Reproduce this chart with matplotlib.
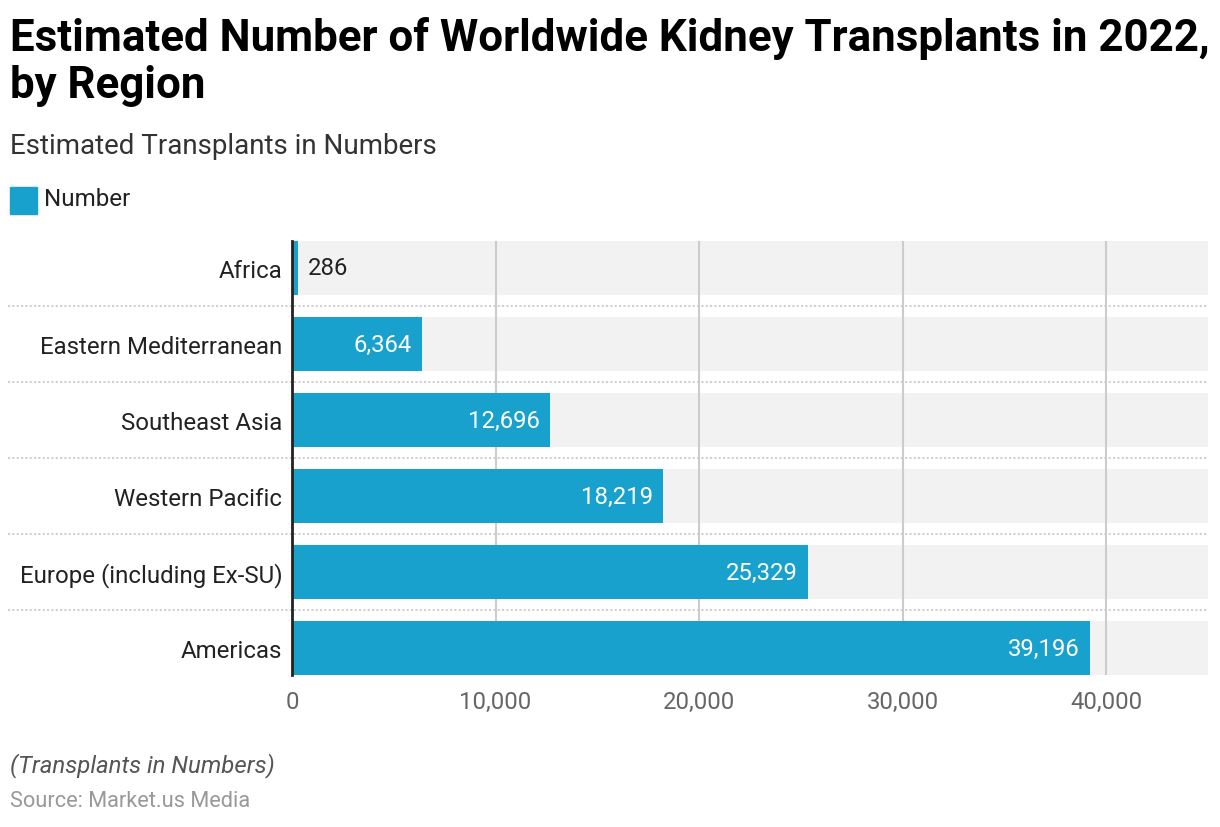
import matplotlib.pyplot as plt
from matplotlib.patches import Rectangle

plt.rcParams['font.family'] = ['Roboto', 'DejaVu Sans']

# Данные
regions = ["Africa", "Eastern Mediterranean", "Southeast Asia",
           "Western Pacific", "Europe (including Ex-SU)", "Americas"]
transplants = [286, 6364, 12696, 18219, 25329, 39196]
x_ticks = [0, 10000, 20000, 30000, 40000]
x_max = 45000

bar_color = '#18a1cd'
bar_h = 0.71

fig = plt.figure(figsize=(12.2, 8.28), dpi=100)
ax = fig.add_axes([292 / 1220, 1 - 676 / 828, (1208 - 292) / 1220, (676 - 242) / 828])

ypos = list(range(len(regions)))

# Серые полосы фона
for y in ypos:
    ax.barh(y, x_max, height=bar_h, color='#f2f2f2', zorder=0)

# Вертикальная сетка
for t in x_ticks[1:]:
    ax.axvline(t, color='#cccccc', linewidth=1.5, zorder=1)

# Пунктирные разделители
for y in ypos[:-1]:
    ax.plot([-x_max * 0.31, x_max], [y + 0.5, y + 0.5], color='#cccccc',
            linestyle=(0, (1.2, 1.2)), linewidth=1.3, zorder=1, clip_on=False)

ax.barh(ypos, transplants, height=bar_h, color=bar_color, zorder=2)

# Подписи значений
for y, v in zip(ypos, transplants):
    txt = f"{v:,}"
    if v < 3000:
        ax.text(v + 500, y, txt, va='center', ha='left', fontsize=17.2, color='#222222', zorder=3)
    else:
        ax.text(v - 500, y, txt, va='center', ha='right', fontsize=17.2, color='white', zorder=3)

ax.set_xlim(0, x_max)
ax.set_ylim(len(regions) - 1 + bar_h / 2, -bar_h / 2)
ax.set_yticks(ypos)
ax.set_yticklabels(regions, fontsize=17.3, color='#222222')
ax.set_xticks(x_ticks)
ax.set_xticklabels([f"{t:,}" for t in x_ticks], fontsize=17.2, color='#666666')
ax.tick_params(axis='both', length=0)
ax.tick_params(axis='y', pad=7)
ax.tick_params(axis='x', pad=11)
for s in ['top', 'right', 'bottom']:
    ax.spines[s].set_visible(False)
ax.spines['left'].set_color('#222222')
ax.spines['left'].set_linewidth(2)
ax.spines['left'].set_zorder(4)

# Заголовки
fig.text(10 / 1220, 1 - 38 / 828, "Estimated Number of Worldwide Kidney Transplants in 2022,",
         fontsize=31.6, fontweight='bold', color='#000000', va='center', ha='left')
fig.text(10 / 1220, 1 - 86 / 828, "by Region",
         fontsize=31.6, fontweight='bold', color='#000000', va='center', ha='left')
fig.text(10 / 1220, 1 - 147 / 828, "Estimated Transplants in Numbers",
         fontsize=20, color='#333333', va='center', ha='left')

# Легенда
fig.patches.append(Rectangle((10 / 1220, 1 - 215 / 828), 27 / 1220, 27 / 828,
                             transform=fig.transFigure, color=bar_color))
fig.text(44 / 1220, 1 - 200 / 828, "Number", fontsize=17.4, color='#222222', va='center', ha='left')

# Подвал
fig.text(10 / 1220, 1 - 766 / 828, "(Transplants in Numbers)", fontsize=17.3,
         style='italic', color='#555555', va='center', ha='left')
fig.text(10 / 1220, 1 - 802 / 828, "Source: Market.us Media", fontsize=15.7,
         color='#999999', va='center', ha='left')

fig.savefig("out.png", dpi=100)
